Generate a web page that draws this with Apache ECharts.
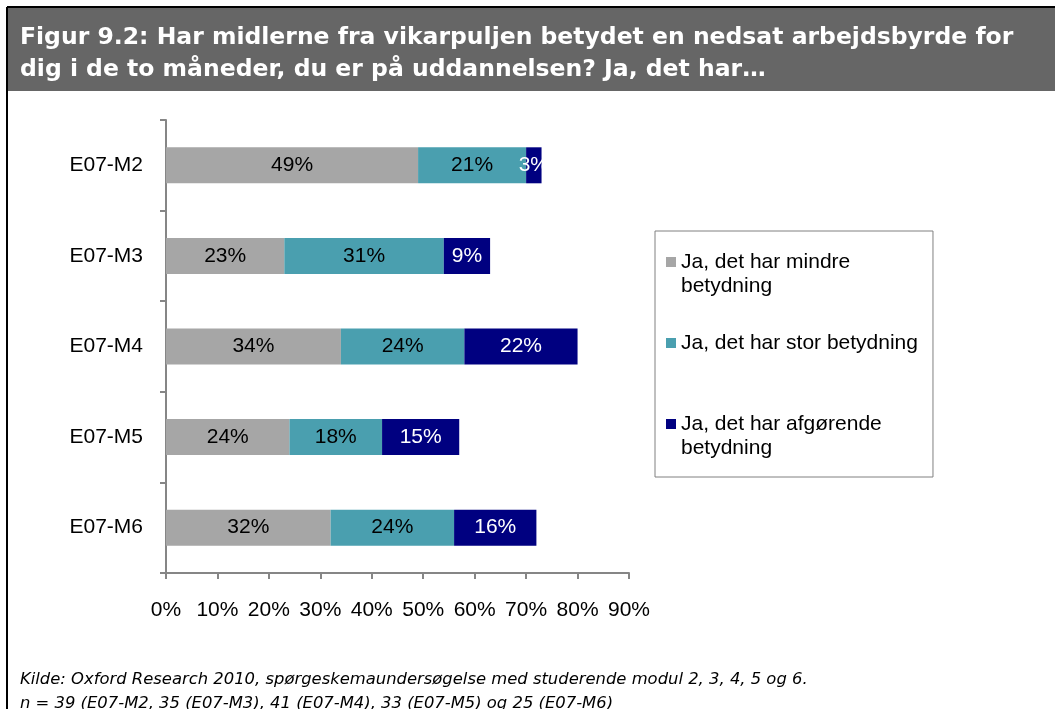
<!DOCTYPE html>
<html>
<head>
<meta charset="utf-8">
<script src="https://cdn.jsdelivr.net/npm/echarts@6/dist/echarts.min.js"></script>
<style>
  html, body { margin: 0; padding: 0; background: #fff; }
  #chart { width: 1055px; height: 709px; }
</style>
</head>
<body>
<div id="chart"></div>
<script>
var categories = ['E07-M2', 'E07-M3', 'E07-M4', 'E07-M5', 'E07-M6'];
var seriesNames = ['Ja, det har mindre betydning', 'Ja, det har stor betydning', 'Ja, det har afgørende betydning'];
var mindre = [49, 23, 34, 24, 32];
var stor = [21, 31, 24, 18, 24];
var afgorende = [3, 9, 22, 15, 16];
var xTicks = [0, 10, 20, 30, 40, 50, 60, 70, 80, 90];

var titleText = 'Figur 9.2: Har midlerne fra vikarpuljen betydet en nedsat arbejdsbyrde for\ndig i de to måneder, du er på uddannelsen? Ja, det har…';
var noteText = 'Kilde: Oxford Research 2010, spørgeskemaundersøgelse med studerende modul 2, 3, 4, 5 og 6.\nn = 39 (E07-M2, 35 (E07-M3), 41 (E07-M4), 33 (E07-M5) og 25 (E07-M6)';

var COLORS = ['#A6A6A6', '#4A9FAF', '#000080'];
var LABEL_COLORS = ['#000', '#000', '#fff'];
var FONT = '"Liberation Sans", Arial, sans-serif';

var chart = echarts.init(document.getElementById('chart'));

function makeSeries(idx, data) {
    return {
        name: seriesNames[idx],
        type: 'bar',
        stack: 'total',
        barWidth: 36,
        data: data,
        color: COLORS[idx],
        label: {
            show: true,
            position: 'inside',
            formatter: '{c}%',
            color: LABEL_COLORS[idx],
            fontFamily: FONT,
            fontSize: 21
        }
    };
}

// legend text: a blank first line keeps the icon level with the first text line
var legendLabels = {};
legendLabels[seriesNames[0]] = '\u00a0\nJa, det har mindre\nbetydning';
legendLabels[seriesNames[1]] = 'Ja, det har stor betydning';
legendLabels[seriesNames[2]] = '\u00a0\nJa, det har afgørende\nbetydning';

var option = {
    backgroundColor: '#fff',
    animation: false,
    graphic: [
        { type: 'rect', shape: { x: 8, y: 8, width: 1047, height: 83 }, style: { fill: '#666666' } },
        { type: 'line', shape: { x1: 7, y1: 7, x2: 1055, y2: 7 }, style: { stroke: '#000', lineWidth: 2 } },
        { type: 'line', shape: { x1: 7, y1: 7, x2: 7, y2: 709 }, style: { stroke: '#000', lineWidth: 2 } },
        {
            type: 'text', left: 20, top: 22,
            style: { text: titleText, fill: '#fff', font: 'bold 23.5px "DejaVu Sans", Verdana, sans-serif', lineHeight: 32 }
        },
        {
            type: 'text', left: 20, top: 668,
            style: { text: noteText, fill: '#000', font: 'italic 16.4px "DejaVu Sans", Verdana, sans-serif', lineHeight: 24 }
        }
    ],
    legend: {
        orient: 'vertical',
        left: 655,
        top: 231,
        padding: [-5, 15, 17, 11],
        itemGap: 33,
        itemWidth: 10,
        itemHeight: 10,
        icon: 'rect',
        borderColor: '#808080',
        borderWidth: 1,
        data: seriesNames,
        formatter: function (name) { return legendLabels[name]; },
        textStyle: {
            fontFamily: FONT,
            fontSize: 21,
            color: '#000',
            lineHeight: 24
        }
    },
    grid: { left: 166, right: 426, top: 120, bottom: 136, containLabel: false },
    xAxis: {
        type: 'value',
        min: xTicks[0],
        max: xTicks[xTicks.length - 1],
        interval: 10,
        splitLine: { show: false },
        axisLine: { show: true, lineStyle: { color: '#868686', width: 2 } },
        axisTick: { show: true, length: 6, lineStyle: { color: '#868686', width: 2 } },
        axisLabel: { formatter: '{value}%', fontFamily: FONT, fontSize: 21, color: '#000', margin: 27 }
    },
    yAxis: {
        type: 'category',
        data: categories,
        inverse: true,
        axisLine: { show: true, lineStyle: { color: '#868686', width: 2 } },
        axisTick: { show: true, length: 6, lineStyle: { color: '#868686', width: 2 } },
        axisLabel: { fontFamily: FONT, fontSize: 21, color: '#000', margin: 23 }
    },
    series: [
        makeSeries(0, mindre),
        makeSeries(1, stor),
        makeSeries(2, afgorende)
    ]
};

chart.setOption(option);
</script>
</body>
</html>
